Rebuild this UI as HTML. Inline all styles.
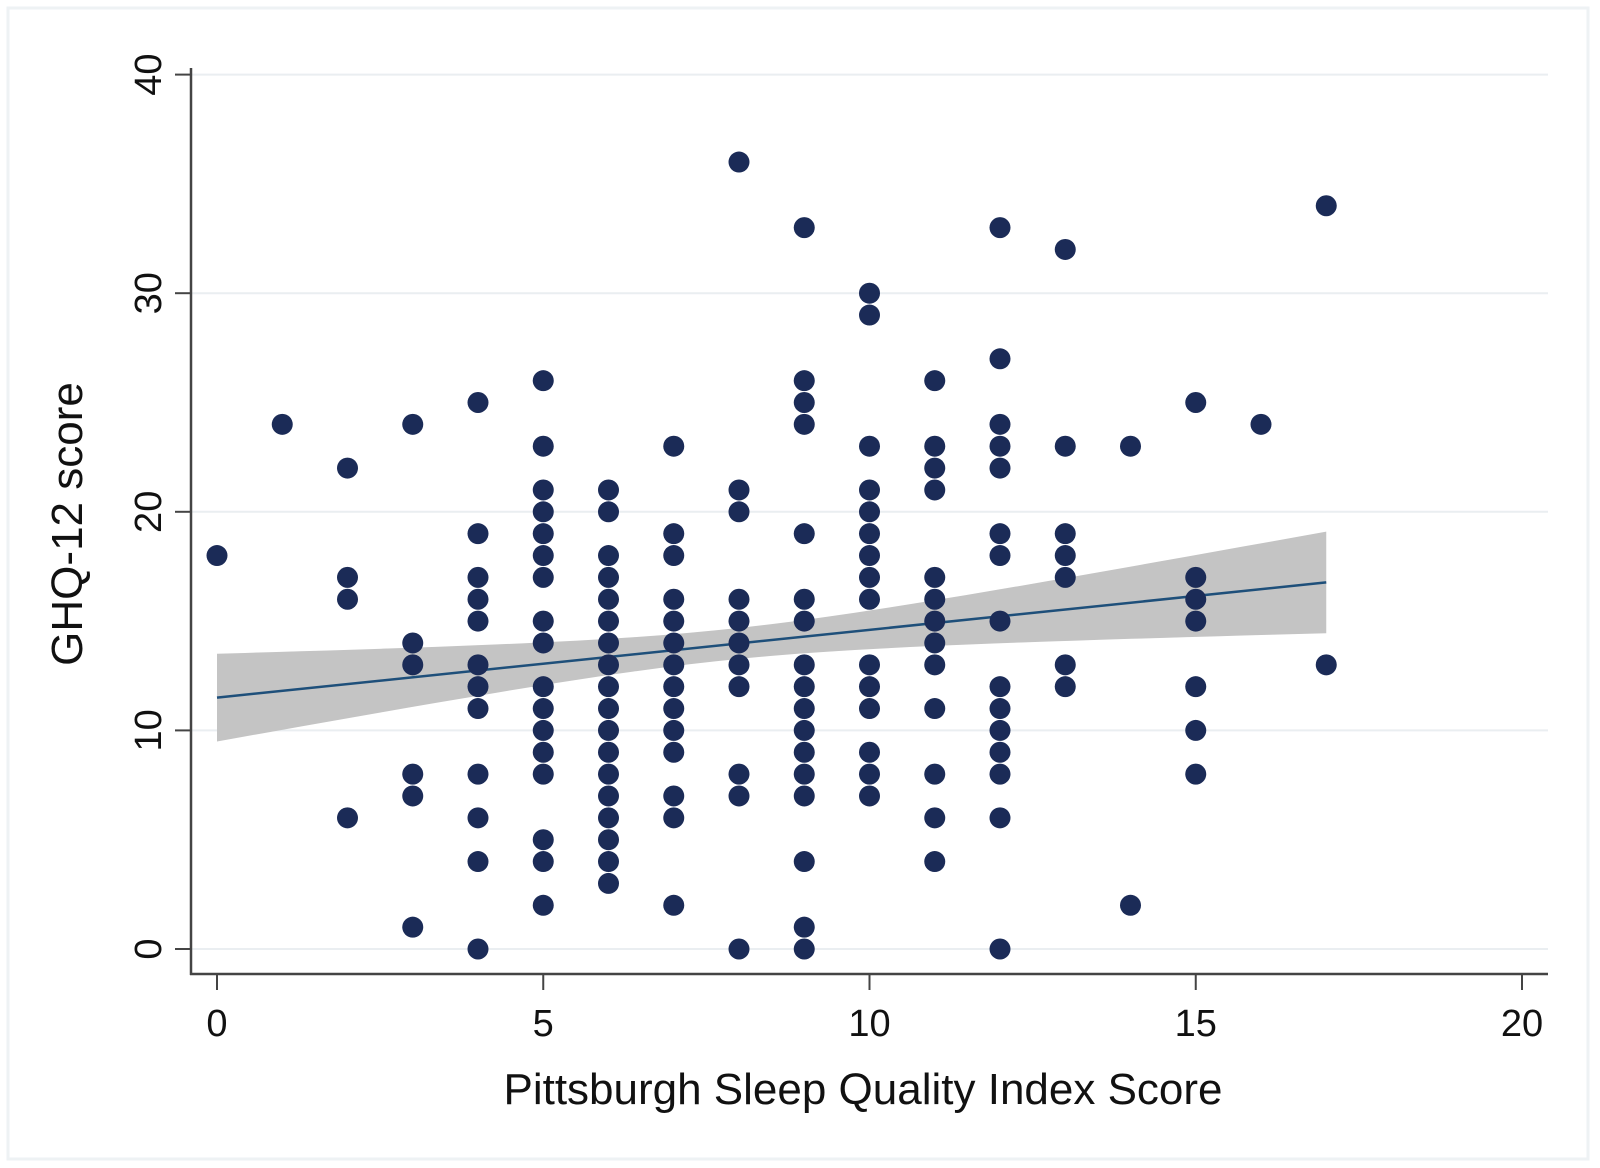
<!DOCTYPE html>
<html><head><meta charset="utf-8"><style>
html,body{margin:0;padding:0;background:#fff;}
svg{display:block;font-family:"Liberation Sans",Arial,sans-serif;}
</style></head><body>
<svg id="chart" width="1600" height="1168" viewBox="0 0 1600 1168">
<rect x="8" y="8" width="1580" height="1151" fill="#fff" stroke="#eef2f4" stroke-width="3"/>
<g id="grid"></g><g id="band"></g><g id="dots"></g><g id="axes"></g>
<text x="863" y="1104" font-size="44" text-anchor="middle" fill="#111">Pittsburgh Sleep Quality Index Score</text>
<text transform="translate(82,524) rotate(-90)" font-size="44" text-anchor="middle" fill="#111">GHQ-12 score</text>
</svg>
<script>
const xTicks=[0,5,10,15,20];
const yTicks=[0,10,20,30,40];
const psqiGroups=[0,1,2,3,4,5,6,7,8,9,10,11,12,13,14,15,16,17];
const ghqByGroup=[
[18],[24],[22,17,16,6],[24,14,13,8,7,1],
[25,19,17,16,15,13,12,11,8,6,4,0],
[26,23,21,20,19,18,17,15,14,12,11,10,9,8,5,4,2],
[21,20,18,17,16,15,14,13,12,11,10,9,8,7,6,5,4,3],
[23,19,18,16,15,14,13,12,11,10,9,7,6,2],
[36,21,20,16,15,14,13,12,8,7,0],
[33,26,25,24,19,16,15,13,12,11,10,9,8,7,4,1,0],
[30,29,23,21,20,19,18,17,16,13,12,11,9,8,7],
[26,23,22,21,17,16,15,14,13,11,8,6,4],
[33,27,24,23,22,19,18,15,12,11,10,9,8,6,0],
[32,23,19,18,17,13,12],[23,2],[25,17,16,15,12,10,8],[24],[34,13]];
const fitLine=[11.5,0.31];      // intercept, slope
const ciParams=[7.8,0.5,0.058]; // mean x, variance const, slope var
const fitRange=[0,17];

const NS="http://www.w3.org/2000/svg";
const X=v=>217+v*65.25, Y=v=>949-v*21.86;
function mk(tag,attrs,parent){const e=document.createElementNS(NS,tag);for(const k in attrs)e.setAttribute(k,attrs[k]);parent.appendChild(e);return e;}
const grid=document.getElementById('grid'),band=document.getElementById('band'),dots=document.getElementById('dots'),axes=document.getElementById('axes');
yTicks.forEach(t=>{
 const g=mk('line',{x1:191,x2:1548,y1:Y(t),y2:Y(t),stroke:'#eaeef1','stroke-width':2},grid);
 
 
});
let up=[],lo=[];
for(let i=0;i<=40;i++){const x=fitRange[0]+(fitRange[1]-fitRange[0])*i/40;const m=fitLine[0]+fitLine[1]*x;const h=Math.sqrt(ciParams[1]+ciParams[2]*(x-ciParams[0])**2);up.push(X(x)+','+Y(m+h));lo.unshift(X(x)+','+Y(m-h));}
const poly=mk('polygon',{points:up.concat(lo).join(' '),fill:'#c4c4c4'},band);


const fl=mk('line',{x1:X(fitRange[0]),y1:Y(fitLine[0]+fitLine[1]*fitRange[0]),x2:X(fitRange[1]),y2:Y(fitLine[0]+fitLine[1]*fitRange[1]),stroke:'#1e4f7a','stroke-width':2.5},band);


psqiGroups.forEach((x,i)=>ghqByGroup[i].forEach(y=>{
 const c=mk('circle',{cx:X(x),cy:Y(y),r:10.5,fill:'#1b2b57'},dots);
 
 
}));
const ya=mk('line',{x1:191,x2:191,y1:68,y2:975,stroke:'#444','stroke-width':2.5},axes);


const xa=mk('line',{x1:190,x2:1548,y1:974,y2:974,stroke:'#444','stroke-width':2.5},axes);


xTicks.forEach(t=>{
 mk('line',{x1:X(t),x2:X(t),y1:974,y2:990,stroke:'#444','stroke-width':2},axes);
 const tx=mk('text',{x:X(t),y:1036,'font-size':38,'text-anchor':'middle',fill:'#111'},axes);
 tx.textContent=t;
 
 
});
yTicks.forEach(t=>{
 mk('line',{x1:175,x2:191,y1:Y(t),y2:Y(t),stroke:'#444','stroke-width':2},axes);
 const tx=mk('text',{transform:`translate(161,${Y(t)}) rotate(-90)`,'font-size':38,'text-anchor':'middle',fill:'#111'},axes);
 tx.textContent=t;
 
 
});
</script>
</body></html>
